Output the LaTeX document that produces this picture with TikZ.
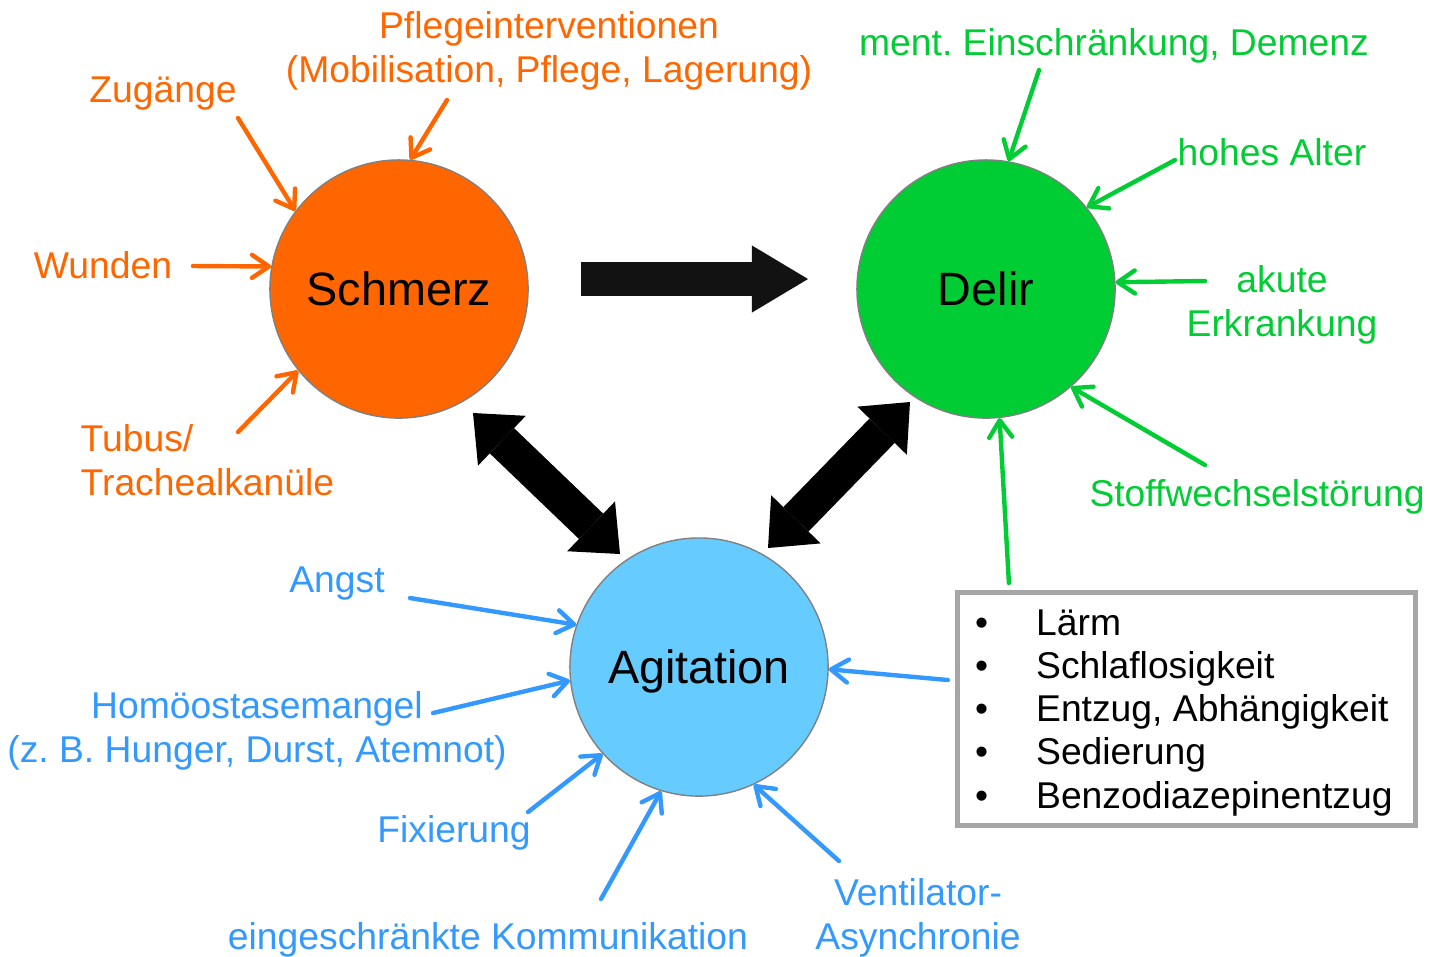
\documentclass[tikz,border=0pt]{standalone}
\usepackage{fontspec}
\setmainfont{Liberation Sans}
\frenchspacing
\usetikzlibrary{arrows.meta}
\definecolor{schmerzorange}{HTML}{FF6600}
\definecolor{delirgreen}{HTML}{00CC33}
\definecolor{agitblue}{HTML}{66CCFF}
\definecolor{textblue}{HTML}{3399FF}
\definecolor{boxgray}{HTML}{A6A6A6}

\begin{document}
\begin{tikzpicture}[x=0.01cm,y=-0.01cm,
  circ/.style={circle,draw=gray,line width=0.4pt,minimum size=2.58cm,inner sep=0pt,text depth=0pt,font=\fontsize{13.3}{16}\selectfont},
  lbl/.style={inner sep=0pt,align=center,text depth=0pt,font=\fontsize{10.6}{12.5}\selectfont},
  thinarr/.style={line width=1.25pt,line cap=round,-{Straight Barb[length=1.7mm,width=2.3mm,round]}},
  oarr/.style={thinarr,draw=schmerzorange},
  garr/.style={thinarr,draw=delirgreen},
  barr/.style={thinarr,draw=textblue},
  bigarr/.style={line width=0.34cm,draw=black!93,-{Triangle[length=5.6mm,width=6.7mm,line width=0pt]}},
  dblarr/.style={line width=0.35cm,draw=black,{Triangle[length=4mm,width=6.9mm,line width=0pt]}-{Triangle[length=4mm,width=6.9mm,line width=0pt]}}]
\useasboundingbox (0,0) rectangle (1440,956);

% the three circles
\node[circ,fill=schmerzorange] (schmerz) at (399,289) {Schmerz};
\node[circ,fill=delirgreen] (delir) at (986,289) {Delir};
\node[circ,fill=agitblue] (agit) at (699,667) {Agitation};

% big arrows
\draw[bigarr] ([shift={(182,-10)}]schmerz.center) -- ([shift={(-178,-10)}]delir.center);
\draw[dblarr] ([shift={(74,124)}]schmerz.center) -- ([shift={(-79,-113)}]agit.center);
\draw[dblarr] ([shift={(-76,113)}]delir.center) -- ([shift={(69,-119)}]agit.center);

% Schmerz
\node[lbl,text=schmerzorange] (pflege) at (549,47) {Pflegeinterventionen\\(Mobilisation, Pflege, Lagerung)};
\node[lbl,text=schmerzorange] (zugaenge) at (163,90) {Zugänge};
\node[lbl,text=schmerzorange] (wunden) at (103,265) {Wunden};
\node[lbl,text=schmerzorange,align=left,anchor=west] (tubus) at (80,460) {Tubus/\\Trachealkanüle};
\coordinate (pflegeS) at (447,100);
\coordinate (zugaengeS) at (238,118);
\coordinate (wundenS) at (193,266);
\coordinate (tubusS) at (238,432);
\draw[oarr] (pflegeS) -- (schmerz.85);
\draw[oarr] (zugaengeS) -- (schmerz.143.5);
\draw[oarr] (wundenS) -- (schmerz.170);
\draw[oarr] (tubusS) -- (schmerz.219.4);

% Delir
\node[lbl,text=delirgreen] (ment) at (1114,42) {ment. Einschränkung, Demenz};
\node[lbl,text=delirgreen] (alter) at (1272,152) {hohes Alter};
\node[lbl,text=delirgreen] (akut) at (1282,301) {akute\\Erkrankung};
\node[lbl,text=delirgreen] (stoff) at (1257,493) {Stoffwechselstörung};
\coordinate (mentS) at (1039,70);
\coordinate (alterS) at (1175,160);
\coordinate (akutS) at (1205,281);
\coordinate (stoffS) at (1205,465);
\draw[garr] (mentS) -- (delir.80);
\draw[garr] (alterS) -- (delir.39.4);
\draw[garr] (akutS) -- (delir.3.5);
\draw[garr] (stoffS) -- (delir.-49);

% Agitation
\node[lbl,text=textblue] (angst) at (337,580) {Angst};
\node[lbl,text=textblue] (homoeo) at (257,727) {Homöostasemangel\\(z. B. Hunger, Durst, Atemnot)};
\node[lbl,text=textblue] (fix) at (454,829) {Fixierung};
\node[lbl,text=textblue] (komm) at (488,936) {eingeschränkte Kommunikation};
\node[lbl,text=textblue] (vent) at (918,914) {Ventilator-\\Asynchronie};
\coordinate (angstS) at (410,598);
\coordinate (homoeoS) at (433,713);
\coordinate (fixS) at (528,812);
\coordinate (kommS) at (601,899);
\coordinate (ventS) at (839,861);
\draw[barr] (angstS) -- (agit.161.8);
\draw[barr] (homoeoS) -- (agit.186.6);
\draw[barr] (fixS) -- (agit.222.2);
\draw[barr] (kommS) -- (agit.253.3);
\draw[barr] (ventS) -- (agit.295.2);

% list box
\node[draw=boxgray,line width=1.4pt,minimum width=4.58cm,minimum height=2.33cm] (box) at (1186.5,709) {};
\node[inner sep=0pt,anchor=west,font=\fontsize{10.6}{12.3}\selectfont] (liste) at ([shift={(19.5,4)}]box.west)
  {\begin{tabular}{@{}p{0.61cm}@{}l@{}}
   \textbullet & Lärm\\
   \textbullet & Schlaflosigkeit\\
   \textbullet & Entzug, Abhängigkeit\\
   \textbullet & Sedierung\\
   \textbullet & Benzodiazepinentzug
   \end{tabular}};
\draw[garr] ([shift={(54,-7)}]box.north west) -- (delir.-84.3);
\draw[barr] ([shift={(-7,-29)}]box.west) -- (agit.-1.3);
\end{tikzpicture}
\end{document}
